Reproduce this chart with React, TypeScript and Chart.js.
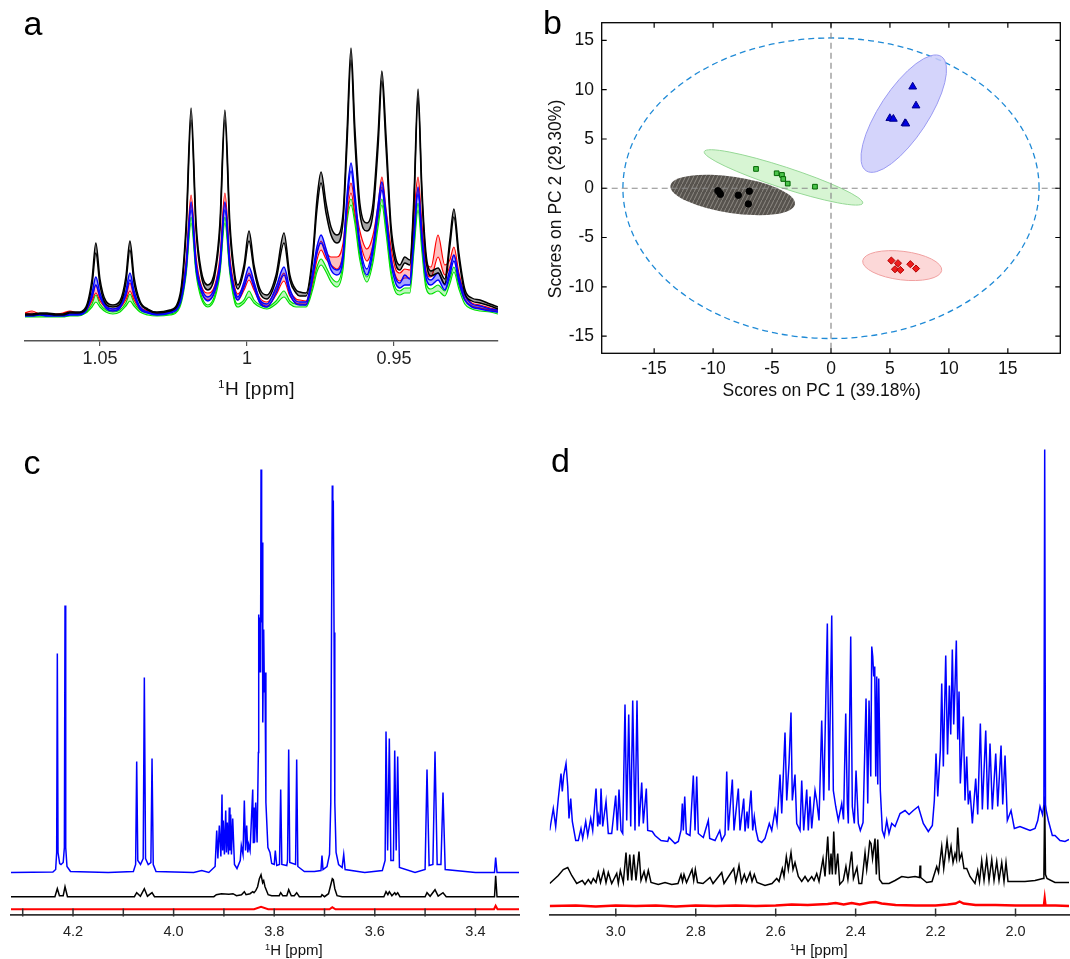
import React, { useEffect, useRef } from "react";
import { Chart, registerables } from "chart.js";
Chart.register(...registerables);

const FONT = "'Liberation Sans', Arial, Helvetica, sans-serif";
Chart.defaults.font.family = FONT;

// ================= Panel a : overlaid spectra (1.08 - 0.91 ppm) =================
const aPpm = [1.0755,1.0731,1.0704,1.0680,1.0650,1.0626,1.0602,1.0575,1.0548,1.0527,1.0514,1.0500,1.0480,1.0456,1.0432,1.0412,1.0398,1.0384,1.0364,1.0337,1.0306,1.0262,1.0228,1.0207,1.0190,1.0173,1.0156,1.0133,1.0109,1.0092,1.0075,1.0058,1.0041,1.0031,1.0010,0.9993,0.9976,0.9956,0.9932,0.9901,0.9874,0.9854,0.9833,0.9820,0.9799,0.9776,0.9762,0.9748,0.9731,0.9714,0.9694,0.9673,0.9660,0.9646,0.9633,0.9616,0.9592,0.9571,0.9554,0.9541,0.9527,0.9510,0.9493,0.9480,0.9463,0.9446,0.9432,0.9418,0.9405,0.9391,0.9374,0.9350,0.9327,0.9310,0.9296,0.9279,0.9259,0.9235,0.9207,0.9173,0.9146];
const aBlackHi = [1,1,2,2,1,1,3,3,8,36,72,36,14,10,14,38,74,38,14,6,3,5,20,90,207,92,45,30,45,92,205,92,40,30,50,84,50,26,20,40,82,40,25,23,22,62,115,143,112,88,80,102,180,267,188,112,92,112,180,244,180,90,56,50,58,55,118,226,128,62,44,47,36,75,106,62,26,17,15,11,8];
const aBlackLo = [0,0,1,1,0,0,2,2,6,30,62,30,11,8,11,32,65,32,12,5,2,4,17,82,195,84,40,25,40,84,195,84,35,26,45,74,45,22,16,35,72,35,22,19,19,56,105,132,102,80,72,94,168,255,175,102,84,102,168,234,168,82,50,45,52,50,110,217,120,56,39,42,31,68,98,56,22,14,12,9,6];
const aRedHi = [2,4,1,1,1,2,4,2,6,17,30,17,9,6,9,18,32,18,8,4,2,4,16,55,120,58,30,22,30,58,122,58,27,21,30,42,30,17,13,25,42,24,16,15,14,40,62,74,63,58,58,72,110,132,112,84,66,80,110,138,106,68,45,42,46,45,100,138,92,52,48,80,50,55,68,42,20,12,10,7,5];
const aRedLo = [1,2,0,0,0,1,3,1,4,14,22,14,7,4,7,15,24,15,6,3,1,3,12,48,110,50,24,15,24,50,112,50,21,15,25,35,25,13,9,20,34,19,12,11,11,34,55,65,56,50,46,62,100,122,102,74,54,70,100,128,98,58,38,34,37,37,88,126,82,44,38,58,40,48,60,36,16,9,7,5,4];
const aBlueHi = [0,0,1,0,0,0,1,1,5,22,38,22,9,6,9,24,42,24,8,3,1,3,14,50,113,52,28,18,28,52,113,52,24,18,33,48,33,15,11,28,48,26,14,13,13,44,68,80,66,50,45,62,118,152,122,72,46,70,110,133,102,58,36,32,40,36,82,128,82,42,35,42,30,45,60,38,20,11,9,6,5];
const aBlueLo = [-1,-1,0,-1,-1,-1,0,0,4,18,30,18,7,4,7,20,35,20,6,2,0,2,11,45,105,46,24,14,24,46,105,46,20,15,28,40,28,12,8,22,40,21,11,10,10,38,62,72,60,45,40,56,110,144,114,66,40,64,102,125,95,52,31,27,30,30,76,121,76,37,30,35,25,40,54,33,15,8,6,4,3];
const aGreenHi = [-1,-1,-1,-1,-1,-1,0,0,3,11,20,11,5,3,5,12,21,12,5,2,0,1,10,44,98,45,20,10,20,45,98,45,15,11,15,24,15,10,8,14,24,14,11,11,10,30,48,56,48,38,33,52,98,116,98,60,38,58,95,116,88,45,26,24,27,27,70,112,70,32,26,30,24,36,48,30,15,9,7,5,3];
const aGreenLo = [-2,-2,-2,-2,-2,-2,-1,-1,2,8,13,8,3,1,3,9,14,9,3,0,-1,0,8,40,92,41,17,8,17,41,92,41,12,8,12,18,12,8,6,11,18,11,8,8,8,26,43,50,43,33,28,46,92,110,92,55,33,53,88,110,82,40,22,20,22,22,64,105,64,27,21,24,19,31,43,26,11,6,4,3,1];

// ================= Panel b : PCA scores =================
const pcaBlack = [[-9.6,-0.25],[-9.45,-0.45],[-9.38,-0.62],[-7.86,-0.71],[-6.93,-0.3],[-7.01,-1.59]];
const pcaGreen = [[-6.36,1.96],[-4.61,1.52],[-4.16,1.35],[-4.05,0.94],[-3.67,0.47],[-1.36,0.16]];
const pcaBlue = [[6.93,10.3],[7.21,8.38],[4.99,7.1],[5.29,7.03],[6.28,6.59],[6.35,6.55]];
const pcaRed = [[5.12,-7.34],[5.68,-7.61],[5.43,-8.22],[5.88,-8.29],[6.73,-7.71],[7.21,-8.15]];
// confidence ellipses: centre x, centre y, semi-axis vector u (x,y), semi-axis vector v (x,y)
const ellBlack = [-8.34,-0.68,5.28,-0.94,0.228,1.826];
const ellGreen = [-4.03,1.1,6.72,-2.62,0.276,1.014];
const ellBlue = [6.17,7.57,3.19,5.8,1.73,-1.36];
const ellRed = [6.04,-7.85,3.35,-0.49,0.148,1.44];
const ellHotelling = [0,0,17.65,0,0,15.25];

// ================= Panel c : spectra 4.3 - 3.3 ppm =================
const cBlue = [[4.3233,0],[4.24,0.5],[4.2345,3],[4.2325,20],[4.2312,219],[4.2298,20],[4.2265,9],[4.2239,8],[4.2195,10],[4.2172,25],[4.2159,267],[4.2145,25],[4.212,6],[4.205,1],[4.13,0],[4.08,1],[4.0755,8],[4.0734,111],[4.0712,12],[4.0658,8],[4.0605,14],[4.0582,195],[4.0558,14],[4.0505,8],[4.0452,10],[4.0429,114],[4.0405,8],[4.035,1],[3.96,0],[3.944,2],[3.93,0],[3.9175,6],
  [3.9143,42],[3.912,14],[3.9091,47],[3.906,16],[3.9038,78],[3.9025,22],[3.9012,52],[3.899,18],[3.8964,62],[3.895,20],[3.8932,50],[3.891,18],[3.8893,65],[3.888,22],[3.8865,58],[3.885,18],[3.8825,54],[3.879,8],[3.874,4],[3.8675,12],[3.8654,27],[3.862,18],[3.8594,72],[3.857,22],[3.8547,47],[3.8525,20],[3.8507,28],[3.848,22],[3.8427,83],[3.8415,30],[3.8402,65],[3.839,30],[3.8368,70],[3.834,30],[3.8315,120],[3.8308,258],[3.8295,200],[3.8282,255],[3.8272,200],[3.8262,403],[3.825,250],[3.8237,330],[3.8227,150],[3.8209,243],[3.8195,180],[3.8183,200],[3.8165,70],[3.8125,25],[3.8084,20],[3.805,9],[3.8,8],[3.7978,22],[3.795,7],[3.7895,8],[3.7871,83],[3.7848,8],[3.775,7],[3.7735,12],[3.7712,123],[3.769,10],[3.7575,8],[3.7553,113],[3.753,6],[3.74,1],[3.72,1],[3.707,2],[3.705,17],[3.703,3],[3.695,6],[3.69,18],[3.6875,70],[3.686,250],[3.6845,387],[3.6835,362],[3.6825,372],[3.681,240],[3.6795,70],[3.677,20],[3.672,8],[3.665,5],[3.6618,18],[3.659,3],[3.62,0],
  [3.585,2],[3.5795,12],[3.5777,141],[3.5745,22],[3.5711,134],[3.568,12],[3.563,12],[3.5604,122],[3.5575,22],[3.5545,116],[3.551,5],[3.52,0],[3.5,3],[3.4962,103],[3.492,7],[3.4845,8],[3.4803,121],[3.476,8],[3.4685,8],[3.4644,80],[3.46,3],[3.4,0],[3.362,0],[3.3597,15],[3.357,0],[3.3133,0]];
const cBlack = [[4.3233,0],[4.236,0],[4.2312,8],[4.227,1],[4.2195,1],[4.2159,10],[4.211,0],[4.078,0],[4.0734,4],[4.066,0.5],[4.0582,8],[4.052,0.5],[4.0429,4],[4.038,0],[3.92,0],[3.915,2],[3.905,3],[3.89,2.5],[3.882,3],[3.875,1],[3.865,2],[3.8594,5],[3.856,2],[3.848,3],[3.8427,5],[3.8402,4],[3.8368,6],[3.833,10],[3.8295,18],[3.8262,22],[3.823,14],[3.8209,16],[3.8183,10],[3.812,2],[3.805,1],[3.79,1],[3.7871,4],[3.783,1],[3.775,1],[3.7712,7],[3.766,1],[3.76,1],[3.7553,4],[3.75,0],[3.707,0],[3.705,2],[3.7,0],[3.692,3],[3.6875,12],[3.6845,18],[3.6825,17],[3.6795,8],[3.675,1],[3.665,0],[3.582,0],[3.5777,5],[3.574,2],[3.5711,5],[3.566,1],[3.5604,4],[3.558,2],[3.5545,4],[3.55,0],[3.5,0],[3.4962,4],[3.49,0.5],[3.4803,7],[3.474,0.5],[3.4644,4],[3.458,0],[3.362,0],[3.3597,21],[3.357,0],[3.3133,0]];
const cRed = [[4.3233,0],[3.84,0],[3.8262,2.5],[3.812,0],[3.69,0],[3.6845,2],[3.678,0],[3.363,0],[3.3597,3.5],[3.356,0],[3.3133,0]];
const cOffsets = { blue: 42, black: 17.8, red: 5.2 };

// ================= Panel d : spectra 3.17 - 1.87 ppm =================
const dBlue = [[3.1654,84],[3.1564,106],[3.1504,88],[3.1439,116],[3.1371,141],[3.1339,123],[3.1304,139],[3.1246,151],[3.1203,128],[3.1171,96],[3.1128,116],[3.1088,93],[3.1003,74],[3.0938,74],[3.0871,86],[3.0828,76],[3.0753,93],[3.0703,79],[3.0628,96],[3.0578,84],[3.0495,126],[3.0453,88],[3.0428,98],[3.0395,90],[3.037,126],[3.0328,88],[3.0245,113],[3.0188,81],[3.0103,81],[3.0003,119],[2.9962,84],[2.992,125],[2.987,84],[2.9827,81],[2.977,210],[2.9727,94],[2.9677,200],[2.9627,88],[2.9577,214],[2.952,84],[2.947,214],[2.942,88],[2.9352,132],[2.9312,91],[2.9237,126],[2.9202,84],[2.9087,83],[2.9019,79],[2.8869,74],[2.8701,73],[2.8669,77],[2.8519,71],[2.8436,73],[2.8369,84],[2.8336,111],[2.8311,84],[2.8276,118],[2.8236,81],[2.8144,79],[2.8061,139],[2.8018,84],[2.7976,138],[2.7936,81],[2.7811,77],[2.7686,94],[2.7651,76],[2.7518,74],[2.74,84],[2.735,74],[2.7268,80],[2.7225,143],[2.7185,84],[2.7085,135],[2.7043,84],[2.6935,126],[2.6893,84],[2.68,116],[2.6767,83],[2.6717,103],[2.6687,86],[2.666,104],[2.6617,124],[2.6575,84],[2.6535,98],[2.6492,84],[2.6435,74],[2.635,72],[2.6267,76],[2.616,91],[2.6099,84],[2.6017,104],[2.5967,91],[2.5892,140],[2.5849,101],[2.5767,182],[2.5724,114],[2.5667,151],[2.5617,202],[2.5584,114],[2.5517,140],[2.5474,91],[2.5391,84],[2.5349,134],[2.5299,84],[2.5224,125],[2.5184,84],[2.5141,118],[2.5099,86],[2.5016,124],[2.4974,114],[2.4916,94],[2.4849,194],[2.4798,114],[2.4748,211],[2.4708,291],[2.4666,124],[2.4598,299],[2.4558,124],[2.4498,108],[2.4433,94],[2.4348,111],[2.4303,95],[2.4248,201],[2.4208,111],[2.4183,91],[2.4123,278],[2.4083,108],[2.4033,91],[2.399,144],[2.3933,91],[2.3883,84],[2.3815,92],[2.374,216],[2.3697,111],[2.3665,214],[2.3622,138],[2.3597,268],[2.3572,258],[2.3547,238],[2.3522,248],[2.3497,138],[2.3472,238],[2.3447,130],[2.3422,236],[2.3382,124],[2.3332,84],[2.3282,78],[2.3222,94],[2.3165,81],[2.3097,91],[2.3014,88],[2.2889,101],[2.2764,104],[2.2664,100],[2.2557,104],[2.2432,108],[2.2307,91],[2.2182,83],[2.2081,89],[2.2031,114],[2.1989,161],[2.1946,118],[2.1881,164],[2.1846,231],[2.1806,148],[2.1746,259],[2.1701,160],[2.1656,229],[2.1621,180],[2.1581,265],[2.1546,190],[2.1514,228],[2.1481,274],[2.1446,175],[2.1413,223],[2.1381,131],[2.1346,160],[2.1306,198],[2.1264,114],[2.1221,158],[2.1181,110],[2.1139,124],[2.108,91],[2.0996,136],[2.0946,100],[2.088,191],[2.083,105],[2.0745,184],[2.0695,105],[2.0638,171],[2.058,105],[2.0495,161],[2.0445,108],[2.0362,169],[2.032,110],[2.0262,159],[2.0205,94],[2.0112,104],[2.0029,86],[1.9889,88],[1.9764,86],[1.9637,84],[1.9512,86],[1.9444,94],[1.9387,108],[1.9324,100],[1.929,110],[1.927,465],[1.925,110],[1.9232,104],[1.9179,94],[1.9079,79],[1.9012,79],[1.8887,74],[1.8762,73],[1.8662,75]];
const dBlack = [[3.1654,31],[3.1439,39],[3.1314,45],[3.1203,47],[3.1103,39],[3.0978,31],[3.0838,34],[3.0771,30],[3.0688,35],[3.062,31],[3.0563,36],[3.0495,32],[3.0438,42],[3.0383,32],[3.0303,44],[3.0245,32],[3.0188,42],[3.0103,31],[2.9977,41],[2.9937,31],[2.9887,44],[2.9812,32],[2.9745,62],[2.97,34],[2.9652,60],[2.9602,34],[2.9552,60],[2.9495,34],[2.942,63],[2.937,34],[2.9294,43],[2.9244,34],[2.9187,44],[2.9119,32],[2.8937,30],[2.8769,32],[2.8601,30],[2.8444,31],[2.8369,40],[2.8331,33],[2.8294,40],[2.8231,32],[2.8093,45],[2.8051,34],[2.8011,45],[2.7956,32],[2.7818,31],[2.7643,37],[2.7568,31],[2.735,42],[2.7293,31],[2.705,46],[2.7,33],[2.6918,49],[2.6855,32],[2.6785,40],[2.673,33],[2.6642,42],[2.6592,33],[2.6535,40],[2.6467,32],[2.6267,29],[2.6092,31],[2.5974,36],[2.5917,33],[2.5834,46],[2.5792,38],[2.5734,58],[2.5684,45],[2.5617,62],[2.5567,45],[2.5517,52],[2.5434,38],[2.5349,33],[2.5266,38],[2.5191,33],[2.5099,38],[2.5041,34],[2.4974,41],[2.4916,33],[2.4816,56],[2.4766,38],[2.4698,78],[2.4653,40],[2.4616,61],[2.4583,40],[2.4548,83],[2.4503,40],[2.4448,61],[2.4398,30],[2.431,34],[2.4243,48],[2.4193,35],[2.41,63],[2.4055,36],[2.3967,47],[2.3917,31],[2.3848,31],[2.3765,62],[2.3723,45],[2.3683,59],[2.3648,73],[2.3615,71],[2.3577,56],[2.3515,76],[2.3482,40],[2.3447,75],[2.3402,35],[2.3332,31],[2.3165,31],[2.3014,34],[2.2847,38],[2.2689,37],[2.2514,38],[2.2402,37],[2.2389,49],[2.2372,37],[2.2222,32],[2.2089,33],[2.1972,48],[2.1926,42],[2.1846,68],[2.1796,46],[2.1713,74],[2.1663,56],[2.1613,68],[2.1563,52],[2.1514,61],[2.1476,55],[2.1446,87],[2.1401,55],[2.1346,61],[2.1289,46],[2.1221,46],[2.1139,38],[2.1014,31],[2.0946,44],[2.0901,33],[2.0846,54],[2.0788,34],[2.0721,56],[2.0663,34],[2.0595,55],[2.0538,34],[2.047,53],[2.0413,34],[2.0345,52],[2.0288,33],[2.0238,52],[2.0188,33],[2.0095,33],[1.9764,33],[1.9512,34],[1.9312,36],[1.929,40],[1.927,118],[1.925,40],[1.9212,36],[1.9012,32],[1.8662,32]];
const dRed = [[3.1654,8.5],[3.1,9],[3.05,8],[3.0,9],[2.95,8.5],[2.9,9],[2.85,8],[2.8,9],[2.75,8.5],[2.7,9],[2.65,8.5],[2.6,9],[2.56,10],[2.52,9.5],[2.47,10.5],[2.45,11.5],[2.43,10],[2.41,11.5],[2.39,10],[2.365,12],[2.35,12.5],[2.335,11],[2.3,9.5],[2.25,9],[2.2,9],[2.17,10],[2.15,11],[2.14,13],[2.13,11],[2.1,9.5],[2.05,9.5],[2.0,9],[1.95,9],[1.929,9],[1.927,16],[1.925,9],[1.9,9],[1.8662,8.5]];

// ================= helpers =================
const toXY = (pairs: number[][], off = 0) => pairs.map(([x, y]) => ({ x, y: y + off }));

const baseOptions = {
  responsive: false,
  animation: false,
  events: [],
  plugins: { legend: { display: false }, tooltip: { enabled: false } },
};

// ---------- panel a ----------
function configA() {
  const line = (ys: number[], color: string, w: number, order: number, fillColor?: string) => ({
    data: aPpm.map((x, i) => ({ x, y: ys[i] })),
    borderColor: color,
    borderWidth: w,
    pointRadius: 0,
    cubicInterpolationMode: "monotone",
    fill: fillColor ? "-1" : false,
    backgroundColor: fillColor || "transparent",
    order,
  });
  return {
    type: "line",
    data: {
      datasets: [
        line(aBlackHi, "#000000", 1.5, 0),
        line(aBlackLo, "#000000", 1.5, 0, "rgba(0,0,0,0.35)"),
        line(aBlueHi, "#0000ff", 1.5, 1),
        line(aBlueLo, "#0000ff", 1.5, 1, "rgba(0,0,255,0.35)"),
        line(aRedHi, "#ff0000", 1.2, 2),
        line(aRedLo, "#ff0000", 1.2, 2, "rgba(255,0,0,0.25)"),
        line(aGreenHi, "#00e000", 1.2, 3),
        line(aGreenLo, "#00e000", 1.2, 3, "rgba(0,224,0,0.25)"),
      ],
    },
    options: {
      ...baseOptions,
      layout: { padding: { left: 25, right: 22, top: 30, bottom: 0 } },
      scales: {
        x: {
          type: "linear",
          reverse: true,
          min: 0.9146,
          max: 1.0755,
          afterFit: (s: any) => { s.height = 59; },
          ticks: {
            stepSize: 0.05, includeBounds: false, autoSkip: false, maxRotation: 0,
            padding: 2, color: "#222", font: { size: 18 },
            callback: (v: number) => String(Math.round(v * 100) / 100),
          },
          grid: { display: true, drawOnChartArea: false, drawTicks: true, tickLength: 5, color: "#555", lineWidth: 1.2 },
          border: { display: true, color: "#555", width: 1.5 },
        },
        y: { display: false, min: -26, max: 285 },
      },
    },
  };
}

// ---------- panel b ----------
function drawEllipse(ctx: CanvasRenderingContext2D, xs: any, ys: any, p: number[], fill: any, stroke: string | null, dash: number[], lw: number) {
  const [cx, cy, ux, uy, vx, vy] = p;
  const X = xs.getPixelForValue(cx), Y = ys.getPixelForValue(cy);
  const Ux = xs.getPixelForValue(cx + ux) - X, Uy = ys.getPixelForValue(cy + uy) - Y;
  const Vx = xs.getPixelForValue(cx + vx) - X, Vy = ys.getPixelForValue(cy + vy) - Y;
  ctx.save();
  ctx.beginPath();
  ctx.save();
  ctx.transform(Ux, Uy, Vx, Vy, X, Y);
  ctx.arc(0, 0, 1, 0, Math.PI * 2);
  ctx.restore();
  if (fill) { ctx.fillStyle = fill; ctx.fill(); }
  if (stroke) { ctx.setLineDash(dash); ctx.lineWidth = lw; ctx.strokeStyle = stroke; ctx.stroke(); }
  ctx.restore();
}

function makeHatch(base: string, stripe: string) {
  const c = document.createElement("canvas");
  c.width = 4; c.height = 8;
  const g = c.getContext("2d")!;
  g.fillStyle = base; g.fillRect(0, 0, 4, 8);
  g.strokeStyle = stripe; g.lineWidth = 1;
  g.beginPath(); g.moveTo(0, 8); g.lineTo(4, 0); g.stroke();
  return g.createPattern(c, "repeat");
}

function configB() {
  const hatchBlack = makeHatch("#57534e", "#8e8a84");
  const pcaPlugin = {
    id: "pcaShapes",
    beforeDatasetsDraw(chart: any) {
      const { ctx, chartArea: ca, scales: { x, y } } = chart;
      ctx.save();
      ctx.beginPath();
      ctx.rect(ca.left, ca.top, ca.right - ca.left, ca.bottom - ca.top);
      ctx.clip();
      drawEllipse(ctx, x, y, ellHotelling, null, "#1f8ad6", [6, 4], 1.3);
      drawEllipse(ctx, x, y, ellBlue, "rgba(205,205,250,0.85)", "#9a9af2", [], 1);
      drawEllipse(ctx, x, y, ellRed, "rgba(252,212,212,0.9)", "#f0a0a0", [], 1);
      drawEllipse(ctx, x, y, ellBlack, hatchBlack, null, [], 1);
      drawEllipse(ctx, x, y, ellGreen, "rgba(205,242,200,0.8)", "#96d896", [], 1);
      ctx.setLineDash([6, 4]);
      ctx.strokeStyle = "#8a8a8a";
      ctx.lineWidth = 1.2;
      const x0 = x.getPixelForValue(0), y0 = y.getPixelForValue(0);
      ctx.beginPath(); ctx.moveTo(x0, ca.top); ctx.lineTo(x0, ca.bottom); ctx.stroke();
      ctx.beginPath(); ctx.moveTo(ca.left, y0); ctx.lineTo(ca.right, y0); ctx.stroke();
      ctx.restore();
    },
    afterDatasetsDraw(chart: any) {
      const { ctx, chartArea: ca, scales: { x, y } } = chart;
      ctx.save();
      ctx.strokeStyle = "#000";
      ctx.lineWidth = 1.3;
      ctx.strokeRect(ca.left, ca.top, ca.right - ca.left, ca.bottom - ca.top);
      ctx.lineWidth = 1.2;
      ctx.beginPath();
      for (const t of x.ticks) {
        const px = x.getPixelForValue(t.value);
        ctx.moveTo(px, ca.bottom); ctx.lineTo(px, ca.bottom - 5);
        ctx.moveTo(px, ca.top); ctx.lineTo(px, ca.top + 5);
      }
      for (const t of y.ticks) {
        const py = y.getPixelForValue(t.value);
        ctx.moveTo(ca.left, py); ctx.lineTo(ca.left + 5, py);
        ctx.moveTo(ca.right, py); ctx.lineTo(ca.right - 5, py);
      }
      ctx.stroke();
      ctx.restore();
    },
  };
  const pts = (a: number[][]) => a.map(([x, y]) => ({ x, y }));
  const tickFont = { size: 17.5 };
  return {
    type: "scatter",
    data: {
      datasets: [
        { data: pts(pcaBlack), pointStyle: "circle", pointRadius: 3.2, backgroundColor: "#000", borderColor: "#000", borderWidth: 1 },
        { data: pts(pcaGreen), pointStyle: "rect", pointRadius: 3.3, backgroundColor: "#4cc44c", borderColor: "#006400", borderWidth: 1 },
        { data: pts(pcaBlue), pointStyle: "triangle", pointRadius: 4.5, backgroundColor: "#0000e6", borderColor: "#00008b", borderWidth: 1 },
        { data: pts(pcaRed), pointStyle: "rectRot", pointRadius: 3.6, backgroundColor: "#ee1c1c", borderColor: "#b00000", borderWidth: 1 },
      ],
    },
    options: {
      ...baseOptions,
      layout: { padding: { left: 13, right: 9.7, top: 22.7, bottom: 0 } },
      scales: {
        x: {
          type: "linear", min: -19.45, max: 19.45,
          afterFit: (s: any) => { s.height = 46.7; },
          ticks: { stepSize: 5, includeBounds: false, autoSkip: false, maxRotation: 0, padding: 5, color: "#111", font: tickFont, callback: (v: number) => String(v) },
          grid: { display: false, drawTicks: false },
          border: { display: false },
        },
        y: {
          type: "linear", min: -16.75, max: 16.8,
          afterFit: (s: any) => { s.width = 58.7; },
          ticks: { stepSize: 5, includeBounds: false, autoSkip: false, padding: 7.7, color: "#111", font: tickFont, callback: (v: number) => String(v) },
          grid: { display: false, drawTicks: false },
          border: { display: false },
        },
      },
    },
    plugins: [pcaPlugin],
  };
}

// ---------- panels c & d ----------
const inwardTicks = {
  id: "inwardTicks",
  afterDraw(chart: any) {
    const { ctx, chartArea } = chart;
    const xs = chart.scales.x;
    ctx.save();
    ctx.strokeStyle = "#333";
    ctx.lineWidth = 1.5;
    ctx.beginPath();
    for (const t of xs.ticks) {
      const px = xs.getPixelForValue(t.value);
      ctx.moveTo(px, chartArea.bottom - 6);
      ctx.lineTo(px, chartArea.bottom + 2);
    }
    ctx.stroke();
    ctx.restore();
  },
};

function spectrumConfig(datasets: any[], min: number, max: number, step: number, labelFn: (v: number) => string, pad: any) {
  return {
    type: "line",
    data: { datasets },
    options: {
      ...baseOptions,
      layout: { padding: pad },
      scales: {
        x: {
          type: "linear", reverse: true, min, max,
          afterFit: (s: any) => { s.height = 44.5; },
          ticks: { stepSize: step, includeBounds: false, autoSkip: false, maxRotation: 0, padding: 8.5, color: "#222", font: { size: 14.5 }, callback: labelFn },
          grid: { display: false, drawTicks: false },
          border: { display: true, color: "#333", width: 1.8 },
        },
        y: { display: false, min: 0, max: 470 },
      },
    },
    plugins: [inwardTicks],
  };
}

const specLine = (pairs: number[][], off: number, color: string, w: number) => ({
  data: toXY(pairs, off), borderColor: color, borderWidth: w, pointRadius: 0, fill: false,
});

function configC() {
  return spectrumConfig(
    [
      specLine(cBlue, cOffsets.blue, "#0000ff", 1.5),
      specLine(cBlack, cOffsets.black, "#000000", 1.5),
      specLine(cRed, cOffsets.red, "#ff0000", 2),
    ],
    3.3133, 4.3233, 0.1,
    (v: number) => (Math.round(v * 10) % 2 === 0 ? v.toFixed(1) : ""),
    { left: 11, right: 11, top: 4.5, bottom: 0 },
  );
}

function configD() {
  return spectrumConfig(
    [
      specLine(dBlue, 0, "#0000ff", 1.5),
      specLine(dBlack, 0, "#000000", 1.5),
      specLine(dRed, 0, "#ff0000", 2.4),
    ],
    1.8662, 3.1654, 0.2,
    (v: number) => v.toFixed(1),
    { left: 19.7, right: 1, top: 4.5, bottom: 0 },
  );
}

// ================= components =================
function ChartCanvas({ left, top, width, height, build }: any) {
  const ref = useRef<HTMLCanvasElement>(null);
  useEffect(() => {
    const chart = new Chart(ref.current as HTMLCanvasElement, build());
    return () => chart.destroy();
  }, []);
  return <canvas ref={ref} width={width} height={height} style={{ position: "absolute", left, top, width, height }} />;
}

const txt = (left: number, top: number, size: number, extra: any = {}) => ({
  position: "absolute" as const, left, top, fontSize: size, lineHeight: 1, whiteSpace: "nowrap" as const, color: "#000", ...extra,
});

function PpmTitle({ left, top, size, spacing = 0 }: any) {
  return (
    <div style={txt(left, top, size, { letterSpacing: spacing, color: "#111" })}>
      <span style={{ fontSize: "0.62em", position: "relative", top: "-0.55em" }}>1</span>H [ppm]
    </div>
  );
}

export default function App() {
  return (
    <div style={{ position: "absolute", left: 0, top: 0, width: 1070, height: 959, background: "#fff", overflow: "hidden", fontFamily: FONT }}>
      <ChartCanvas left={0} top={0} width={520} height={400} build={configA} />
      <ChartCanvas left={530} top={0} width={540} height={400} build={configB} />
      <ChartCanvas left={0} top={440} width={530} height={519} build={configC} />
      <ChartCanvas left={530} top={440} width={540} height={519} build={configD} />

      <div style={txt(23.6, 6.2, 34)}>a</div>
      <div style={txt(543, 4.5, 34)}>b</div>
      <div style={txt(23.6, 444.5, 34)}>c</div>
      <div style={txt(551, 442.9, 34)}>d</div>

      <PpmTitle left={218} top={378.9} size={19} spacing={0.5} />
      <PpmTitle left={265} top={942.3} size={15} />
      <PpmTitle left={790} top={942.3} size={15} />

      <div style={txt(821.7, 382.2, 17.5, { transform: "translateX(-50%)", color: "#111" })}>Scores on PC 1 (39.18%)</div>
      <div style={txt(556, 198.5, 17.5, { transform: "translate(-50%,-50%) rotate(-90deg)", color: "#111" })}>Scores on PC 2 (29.30%)</div>
    </div>
  );
}
